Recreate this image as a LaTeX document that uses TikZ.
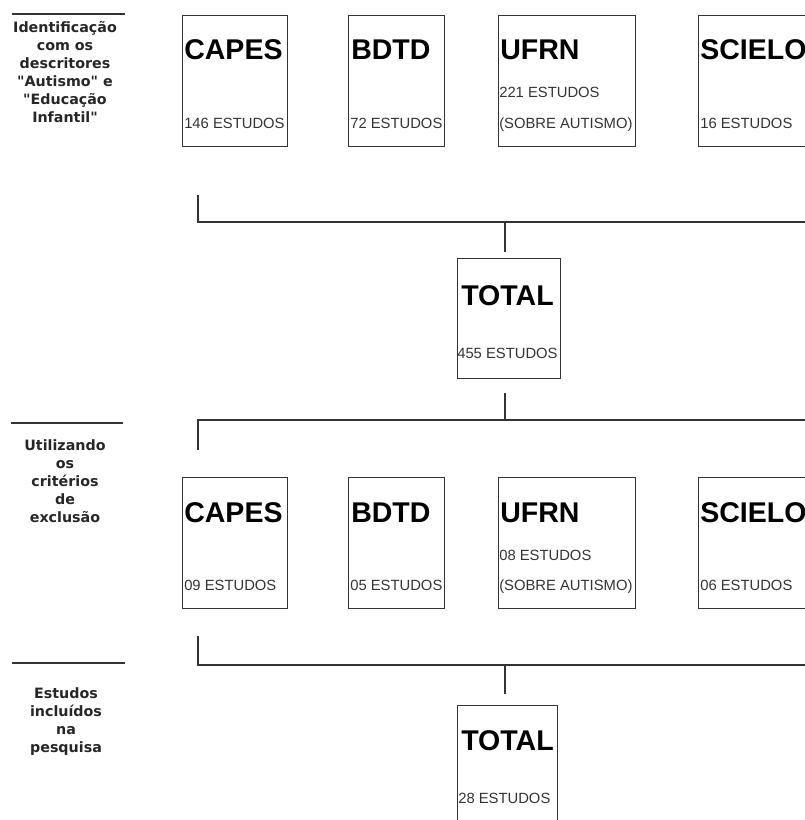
\documentclass[tikz,border=0pt]{standalone}
\usepackage{fontspec}
\setmainfont{Liberation Sans}
\newfontfamily\stagefont{DejaVu Sans}
\begin{document}
\begin{tikzpicture}[x=0.75pt,y=-0.75pt,
  base/.style={draw=black!80,line width=1.1pt,inner sep=0pt,anchor=north west},
  head/.style={font=\bfseries\fontsize{21.4}{24}\selectfont,anchor=base west,inner sep=0pt},
  count/.style={font=\fontsize{11.1}{13}\selectfont,text=black!80,anchor=base west,inner sep=0pt},
  stage/.style={font=\stagefont\bfseries\fontsize{10.7}{13.5}\selectfont,align=center,text=black!85},
  rule/.style={draw=black!80,line width=1.1pt},
  link/.style={draw=black!80,line width=1.5pt}]
\useasboundingbox (0,0) rectangle (805,820);
% bases, primeira e segunda busca
\foreach \n/\x/\w in {capesA/182/105,bdtdA/348/96,ufrnA/498/137,scieloA/698/112}
\node[base,minimum width=\w*0.75pt,minimum height=131*0.75pt] (\n) at (\x,15) {};
\foreach \n/\x/\w in {capesB/182/105,bdtdB/348/96,ufrnB/498/137,scieloB/698/112}
\node[base,minimum width=\w*0.75pt,minimum height=131*0.75pt] (\n) at (\x,477) {};
\foreach \n/\x/\y/\t in {capesA/184/60/CAPES,bdtdA/351/60/BDTD,ufrnA/500/60/UFRN,scieloA/700/60/SCIELO,capesB/184/522/CAPES,bdtdB/351/522/BDTD,ufrnB/500/522/UFRN,scieloB/700/522/SCIELO}
\node[head] (\n-t) at (\x,\y) {\t};
\foreach \n/\x/\y/\t in {capesA/184/128/146 ESTUDOS,bdtdA/350/128/72 ESTUDOS,ufrnA/499/98/221 ESTUDOS,ufrnA-b/499/128/{(SOBRE AUTISMO)},scieloA/700/128/16 ESTUDOS,capesB/184/590/09 ESTUDOS,bdtdB/350/590/05 ESTUDOS,ufrnB/499/560/08 ESTUDOS,ufrnB-b/499/590/{(SOBRE AUTISMO)},scieloB/700/590/06 ESTUDOS}
\node[count] (\n-c) at (\x,\y) {\t};
% totais
\node[base,minimum width=103*0.75pt,minimum height=120*0.75pt] (totA) at (457,258) {};
\node[head] (totA-t) at (461,305) {TOTAL};
\node[count] (totA-c) at (457,358) {455 ESTUDOS};
\node[base,minimum width=100*0.75pt,minimum height=120*0.75pt] (totB) at (457,705) {};
\node[head] (totB-t) at (461,750) {TOTAL};
\node[count] (totB-c) at (458,803) {28 ESTUDOS};
% etapas
\node[stage] (stA) at (65,72) {Identificação\\com os\\descritores\\"Autismo" e\\"Educação\\Infantil"};
\node[stage] (stB) at (65,481) {Utilizando\\os\\critérios\\de\\exclusão};
\node[stage] (stC) at (66,722) {Estudos\\incluídos\\na\\pesquisa};
\foreach \y/\a/\b in {14/12/125,423/11/123,663/12/125}
\draw[rule] (\a,\y)--(\b,\y);
% chaves
\foreach \k/\y/\t in {1/222/195,2/420/450,3/665/636}
{\coordinate (l\k) at (198,\t);
\coordinate (r\k) at (806,\t);
\coordinate (k\k) at (505,\y);
\draw[link] (l\k) |- (k\k) -| (r\k);}
\draw[link,shorten >=4.5pt] (k1)--(k1 |- totA.north);
\draw[link,shorten <=10.5pt] (k1 |- totA.south)--(k2);
\draw[link,shorten >=8.25pt] (k3)--(k3 |- totB.north);
\end{tikzpicture}
\end{document}
